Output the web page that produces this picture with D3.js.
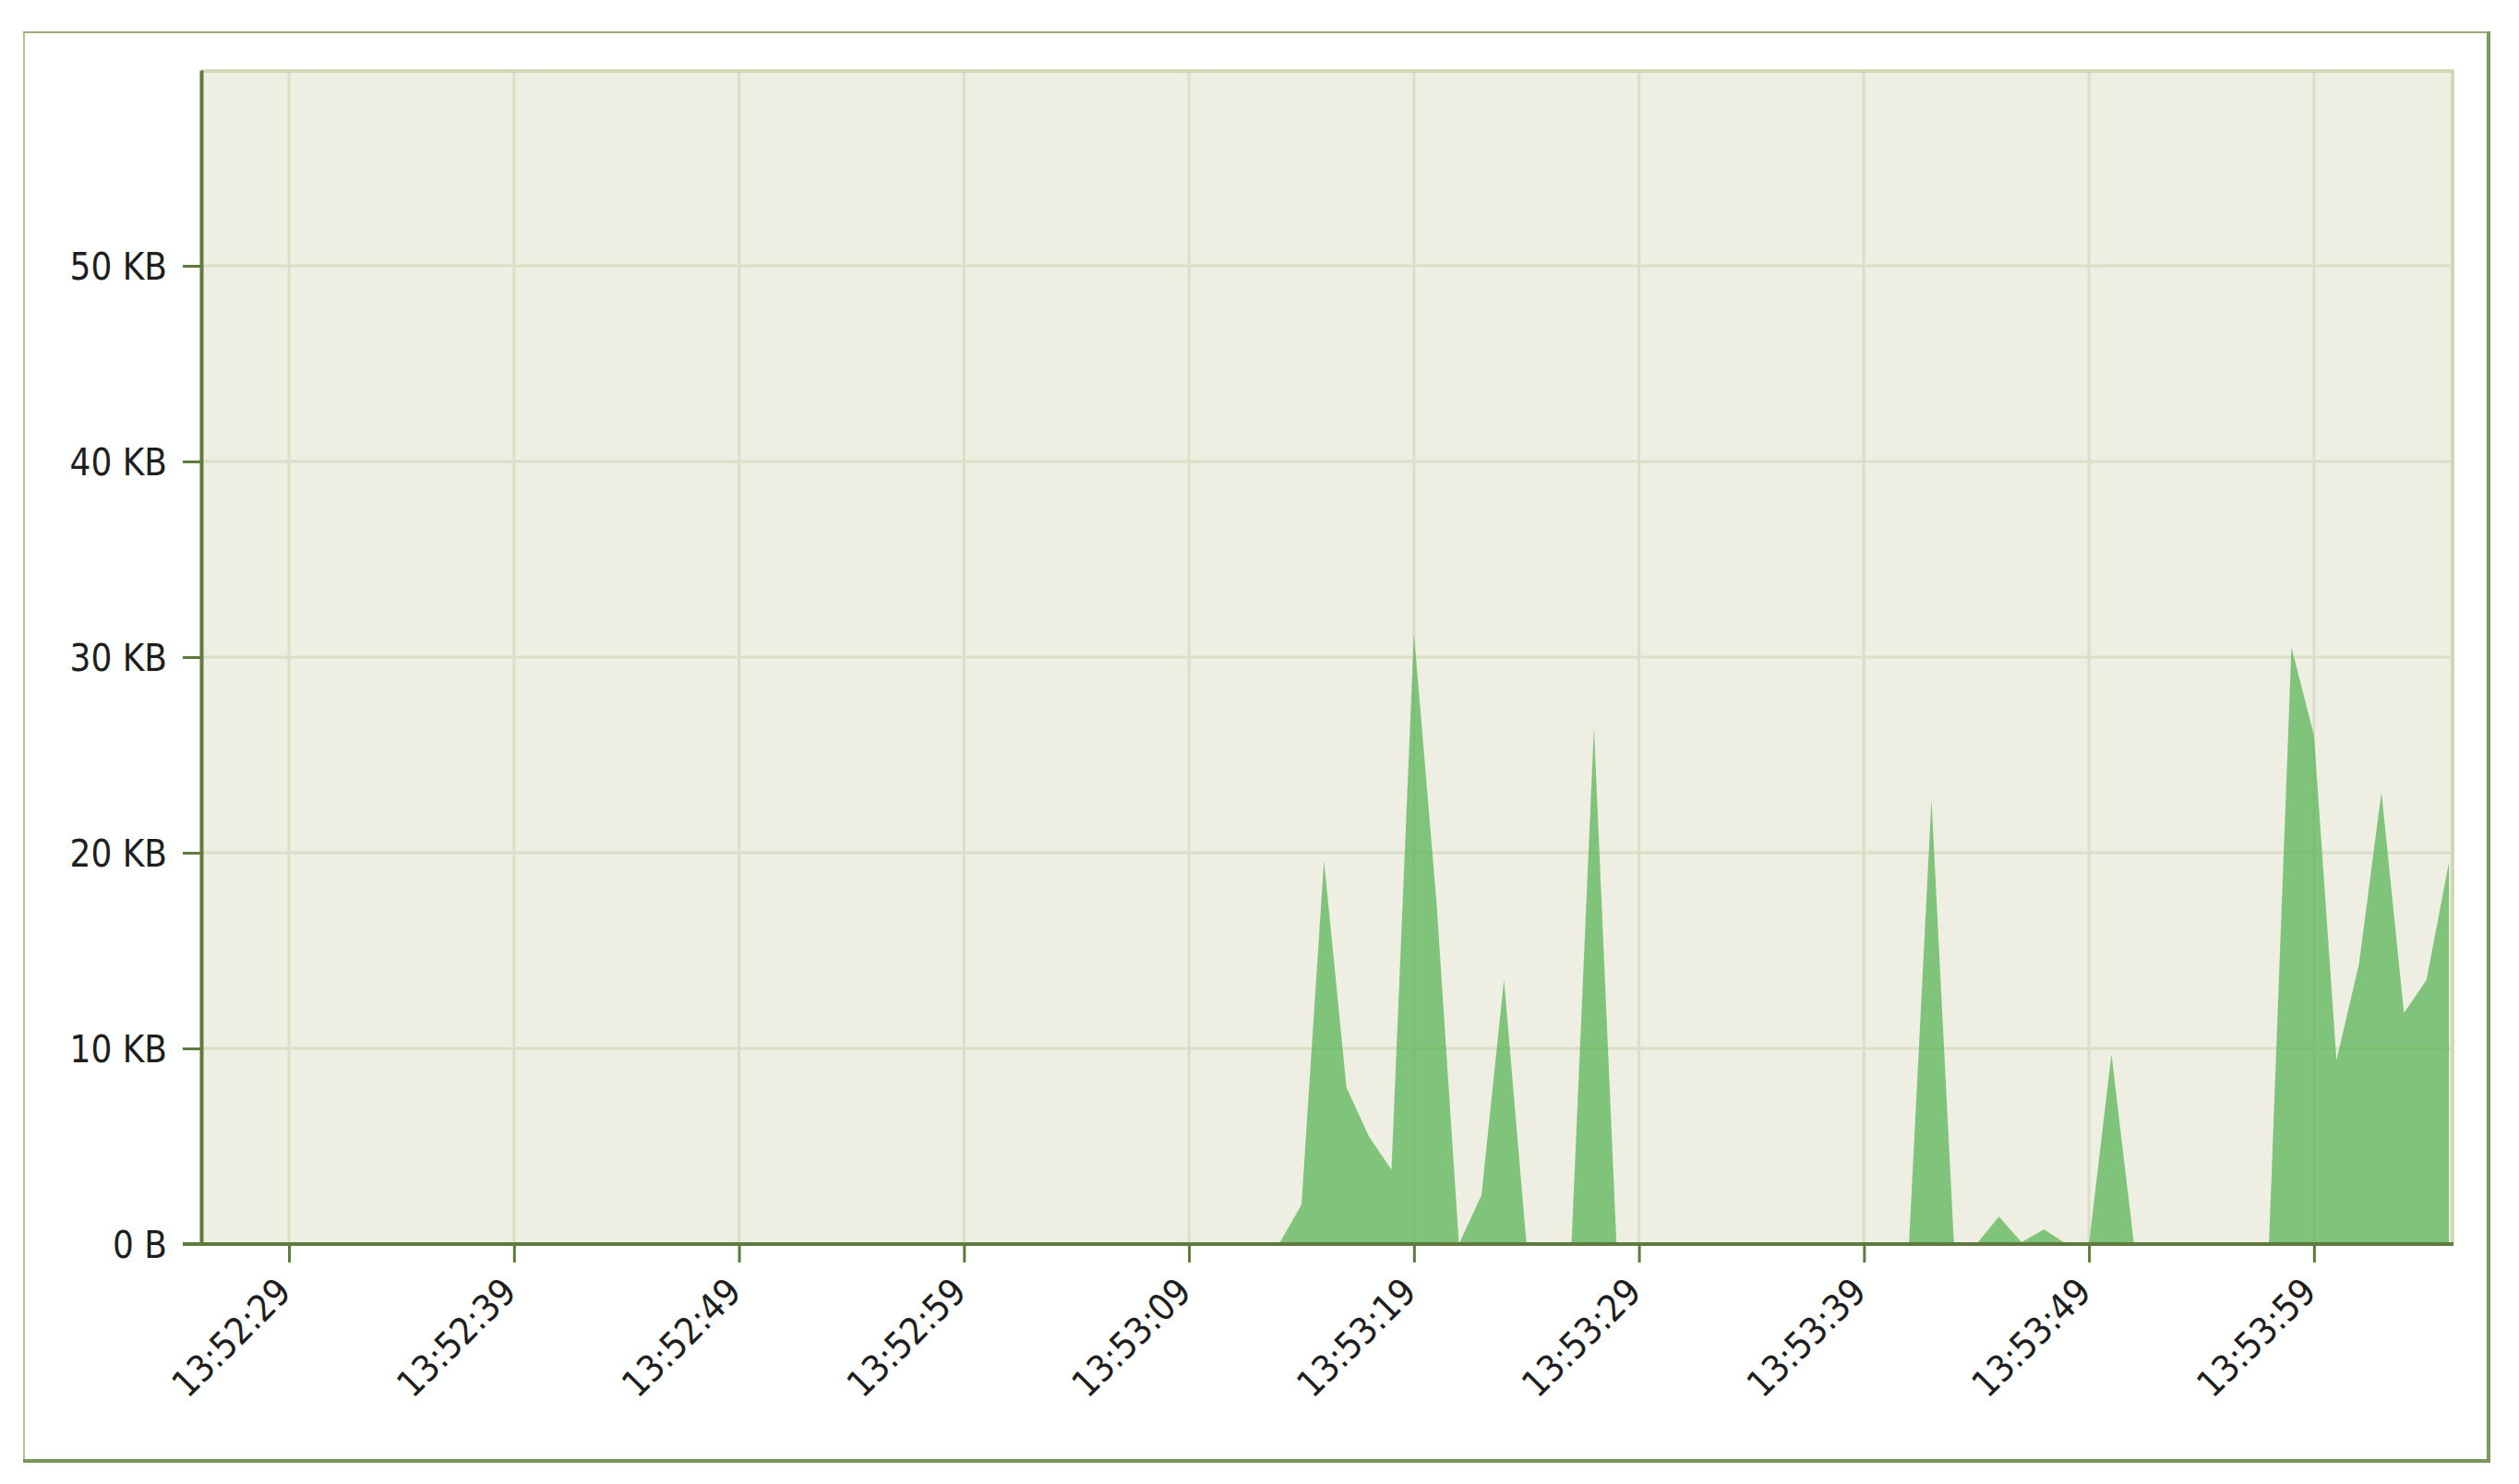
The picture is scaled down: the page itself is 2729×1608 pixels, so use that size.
<!DOCTYPE html>
<html>
<head>
<meta charset="utf-8">
<title>traffic</title>
<script src="https://cdn.jsdelivr.net/npm/d3@7"></script>
<style>
    body { margin: 0; background: #ffffff; }
    svg { display: block; }
    .axis text {
        font-family: "DejaVu Sans Condensed", "DejaVu Sans", sans-serif;
        font-stretch: condensed;
        font-size: 40px;
        fill: #1e1e1e;
    }
</style>
</head>
<body>
<script>
"use strict";

///////////////////
// data
///////////////////

// sample times (zero runs only keep their ends)
var sampleTimes = [
    "13:52:26", "13:53:13", "13:53:14", "13:53:15", "13:53:16", "13:53:17",
    "13:53:18", "13:53:19", "13:53:20", "13:53:21", "13:53:22", "13:53:23",
    "13:53:24", "13:53:26", "13:53:27", "13:53:28", "13:53:41", "13:53:42",
    "13:53:43", "13:53:44", "13:53:45", "13:53:46", "13:53:47", "13:53:48",
    "13:53:49", "13:53:50", "13:53:51", "13:53:57", "13:53:58", "13:53:59",
    "13:54:00", "13:54:01", "13:54:02", "13:54:03", "13:54:04", "13:54:05"
];
// traffic in KB
var kbValues = [
    0, 0, 2.0, 19.6, 8.0, 5.5,
    3.8, 31.2, 17.5, 0, 2.5, 13.5,
    0, 0, 26.4, 0, 0, 22.7,
    0, 0, 1.4, 0.1, 0.75, 0,
    0, 9.7, 0, 0, 30.5, 26.0,
    9.4, 14.3, 23.1, 11.8, 13.5, 19.5
];

var timeDomain = ["13:52:25.1", "13:54:05.2"];
var xTickLabels = [
    "13:52:29", "13:52:39", "13:52:49", "13:52:59", "13:53:09",
    "13:53:19", "13:53:29", "13:53:39", "13:53:49", "13:53:59"
];
var yTickValues = [0, 10, 20, 30, 40, 50];
var yMax = 60;

///////////////////
// functions
///////////////////

var parseTime = d3.timeParse("%H:%M:%S");
var parseTimeMs = d3.timeParse("%H:%M:%S.%L");

function parseAny(s) {
    return s.indexOf(".") >= 0 ? parseTimeMs(s + "00") : parseTime(s);
}

function formatBytes(v) {
    return v === 0 ? "0 B" : v + " KB";
}

(function() {

    var W = 2729, H = 1608;
    var plot = { left: 218, top: 76, right: 2658, bottom: 1348 };

    var data = sampleTimes.map(function(t, i) {
        return { time: parseTime(t), kb: kbValues[i] };
    });

    var x = d3.scaleTime()
        .domain(timeDomain.map(parseAny))
        .range([plot.left, plot.right]);
    var y = d3.scaleLinear()
        .domain([0, yMax])
        .range([plot.bottom, plot.top]);

    var xTicks = xTickLabels.map(parseTime);

    var svg = d3.select("body")
        .append("svg")
        .attr("width", W)
        .attr("height", H);

    // outer frame
    svg.append("line").attr("x1", 26).attr("x2", 26).attr("y1", 34).attr("y2", 1584)
        .attr("stroke", "#b3c398").attr("stroke-width", 2);
    svg.append("line").attr("x1", 25).attr("x2", 2698).attr("y1", 35).attr("y2", 35)
        .attr("stroke", "#9aae80").attr("stroke-width", 2);
    svg.append("line").attr("x1", 2696).attr("x2", 2696).attr("y1", 34).attr("y2", 1585)
        .attr("stroke", "#7b985d").attr("stroke-width", 4);
    svg.append("line").attr("x1", 25).attr("x2", 2698).attr("y1", 1583).attr("y2", 1583)
        .attr("stroke", "#7a955c").attr("stroke-width", 4);

    // plot background
    svg.append("rect")
        .attr("x", plot.left).attr("y", plot.top)
        .attr("width", plot.right - plot.left)
        .attr("height", plot.bottom - plot.top)
        .attr("fill", "#eeeee3");

    // grid
    var grid = svg.append("g").attr("class", "grid")
        .attr("stroke", "#dcdfc5").attr("stroke-width", 3);
    grid.selectAll("line.h")
        .data(yTickValues.slice(1))
        .enter().append("line")
        .attr("class", "h")
        .attr("x1", plot.left).attr("x2", plot.right)
        .attr("y1", function(d) { return y(d); })
        .attr("y2", function(d) { return y(d); });
    grid.selectAll("line.v")
        .data(xTicks)
        .enter().append("line")
        .attr("class", "v")
        .attr("x1", function(d) { return x(d); })
        .attr("x2", function(d) { return x(d); })
        .attr("y1", plot.top).attr("y2", plot.bottom);

    // plot border (top / right)
    svg.append("path")
        .attr("d", "M" + plot.left + "," + (plot.top + 1) + "H" + (plot.right - 1) + "V" + plot.bottom)
        .attr("fill", "none")
        .attr("stroke", "#d3d7b3")
        .attr("stroke-width", 4);

    // area
    var area = d3.area()
        .x(function(d) { return x(d.time); })
        .y0(y(0))
        .y1(function(d) { return y(d.kb); });
    svg.append("path")
        .datum(data)
        .attr("d", area)
        .attr("fill", "#59b657")
        .attr("fill-opacity", 0.75);

    // axes
    var yAxis = d3.axisLeft(y)
        .tickValues(yTickValues)
        .tickSize(20)
        .tickSizeOuter(0)
        .tickPadding(17)
        .tickFormat(formatBytes);
    var gy = svg.append("g")
        .attr("class", "axis")
        .attr("transform", "translate(" + plot.left + ",0)")
        .call(yAxis);

    var xAxis = d3.axisBottom(x)
        .tickValues(xTicks)
        .tickSize(20)
        .tickSizeOuter(0)
        .tickFormat(d3.timeFormat("%H:%M:%S"));
    var gx = svg.append("g")
        .attr("class", "axis")
        .attr("transform", "translate(0," + plot.bottom + ")")
        .call(xAxis);
    gx.select(".domain").attr("d", "M" + (plot.left - 20) + ",0H" + plot.right);

    gx.selectAll(".tick text")
        .attr("x", 0).attr("y", 0).attr("dy", 0)
        .attr("text-anchor", "end")
        .attr("transform", "translate(4,54) rotate(-45)");

    svg.selectAll(".axis .domain, .axis .tick line")
        .attr("stroke", "#5f7a3e")
        .attr("stroke-width", 4);
    gx.selectAll(".tick line").attr("stroke-width", 3);
    gy.selectAll(".tick line").attr("stroke-width", 3);
    gy.selectAll(".tick text").attr("dy", "0.36em");

})();
</script>
</body>
</html>
